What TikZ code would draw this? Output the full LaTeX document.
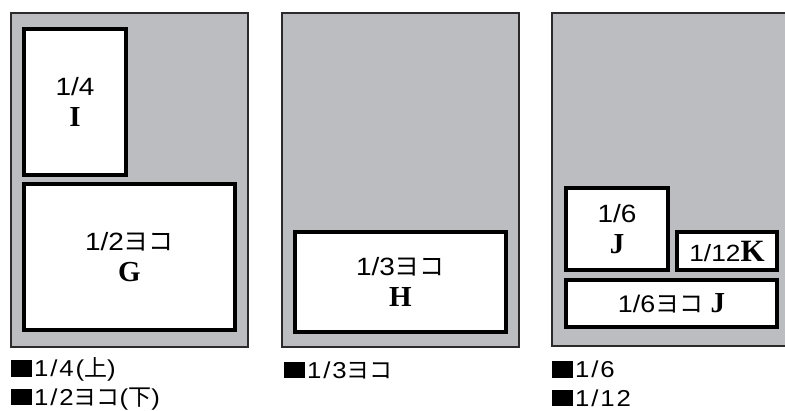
\documentclass[tikz,border=0pt]{standalone}
\usepackage{fontspec}
\setmainfont{Liberation Serif}
\setsansfont{Liberation Sans}[FakeStretch=1.12]
\newfontfamily\jpfont{Noto Sans CJK JP}
\usetikzlibrary{positioning}

\definecolor{paper}{RGB}{188,189,192}
\definecolor{edge}{RGB}{45,42,43}
\newcommand\ltr[1]{{\rmfamily\bfseries\fontsize{29}{31}\selectfont #1}}
\newcommand\jp[1]{{\jpfont #1}}
\newcommand\blk{\rule{21pt}{16.5pt}\hspace{2pt}}

\begin{document}
\begin{tikzpicture}[
    x=1pt, y=-1pt,
    page/.style={draw=edge, line width=2pt, fill=paper, inner sep=0pt},
    slot/.style={draw=black, line width=3.5pt, fill=white, align=center, inner sep=0pt, font=\sffamily\fontsize{25}{31}\selectfont},
    legend/.style={anchor=west, align=left, inner sep=0pt, font=\sffamily\fontsize{23}{28.5}\selectfont\addfontfeatures{LetterSpace=8}}
]
\useasboundingbox (0,0) rectangle (785,410);

% three pages
\node[page, minimum width=237, minimum height=334] (pageA) at (129.5,180) {};
\node[page, minimum width=237, minimum height=334] (pageB) at (400.5,180) {};
\node[page, minimum width=240, minimum height=333] (pageC) at (672,179.5) {};

% page A: 1/4 + 1/2
\node[slot, minimum width=102, minimum height=146] (adI) at (75,102) {1/4\\\ltr{I}};
\node[slot, minimum width=211, minimum height=146] (adG) at (129.5,257) {1/2\jp{ヨコ}\\\ltr{G}};

% page B: 1/3
\node[slot, minimum width=211, minimum height=100] (adH) at (400.5,282) {1/3\jp{ヨコ}\\\ltr{H}};

% page C: 1/6, 1/12, 1/6
\node[slot, minimum width=102, minimum height=82] (adJ) at (617,229) {1/6\\\ltr{J}};
\node[slot, minimum width=100, minimum height=38, font=\sffamily\fontsize{23.5}{26}\selectfont] (adK) at (727,251) {1/12{\rmfamily\bfseries\fontsize{31}{31}\selectfont K}};
\node[slot, minimum width=211, minimum height=47, font=\sffamily\fontsize{24}{26}\selectfont] (adJw) at (671.5,303.5) {1/6\jp{ヨコ} \ltr{J}};

% captions
\node[legend] (capA) at (11,384) {\blk 1/4(\jp{上})\\\blk 1/2\jp{ヨコ}(\jp{下})};
\node[legend] (capB) at (284,370) {\blk 1/3\jp{ヨコ}};
\node[legend] (capC) at (552,384) {\blk 1/6\\\blk 1/12};
\end{tikzpicture}
\end{document}
